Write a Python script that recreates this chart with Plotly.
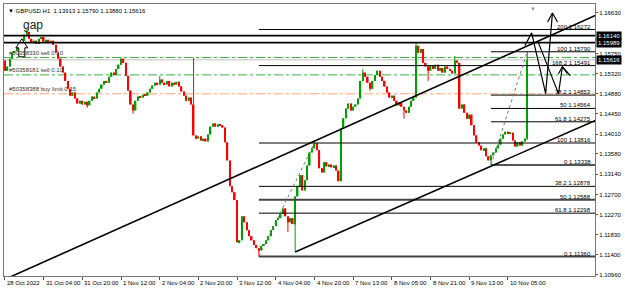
import plotly.graph_objects as go

# ---------------- data (H1 candles, GBPUSD) ----------------
OPEN0 = 1.1560
CLOSE = [
    1.1538, 1.1547, 1.1564, 1.1577, 1.1581, 1.1590, 1.1588, 1.1603, 1.1616, 1.1622,
    1.1607, 1.1598, 1.1603, 1.1596, 1.1607, 1.1611, 1.1601, 1.1605, 1.1598, 1.1603,
    1.1594, 1.1577, 1.1564, 1.1547, 1.1534, 1.1516, 1.1499, 1.1484, 1.1491, 1.1478,
    1.1467, 1.1473, 1.1465, 1.1471, 1.1463, 1.1473, 1.1482, 1.1478, 1.1491, 1.1499,
    1.1508, 1.1516, 1.1512, 1.1525, 1.1534, 1.1529, 1.1542, 1.1551, 1.1564, 1.1555,
    1.1527, 1.1495, 1.1465, 1.1452, 1.1473, 1.1482, 1.1480, 1.1486, 1.1484, 1.1491,
    1.1499, 1.1506, 1.1512, 1.1508, 1.1519, 1.1512, 1.1508, 1.1516, 1.1504, 1.1512,
    1.1508, 1.1514, 1.1504, 1.1493, 1.1484, 1.1473, 1.1480, 1.1465, 1.1398, 1.1391,
    1.1396, 1.1387, 1.1391, 1.1385, 1.1400, 1.1417, 1.1424, 1.1417, 1.1422, 1.1420,
    1.1415, 1.1383, 1.1344, 1.1288, 1.1275, 1.1258, 1.1167, 1.1171, 1.1223, 1.1210,
    1.1193, 1.1180, 1.1171, 1.1161, 1.1154, 1.1150, 1.1159, 1.1163, 1.1171, 1.1180,
    1.1193, 1.1202, 1.1215, 1.1219, 1.1228, 1.1240, 1.1223, 1.1210, 1.1219, 1.1206,
    1.1266, 1.1288, 1.1312, 1.1279, 1.1301, 1.1333, 1.1361, 1.1370, 1.1381, 1.1366,
    1.1327, 1.1318, 1.1340, 1.1331, 1.1335, 1.1329, 1.1333, 1.1322, 1.1299, 1.1413,
    1.1435, 1.1456, 1.1467, 1.1452, 1.1460, 1.1465, 1.1478, 1.1516, 1.1534, 1.1525,
    1.1512, 1.1499, 1.1516, 1.1529, 1.1538, 1.1525, 1.1516, 1.1504, 1.1491, 1.1480,
    1.1484, 1.1473, 1.1463, 1.1469, 1.1460, 1.1452, 1.1447, 1.1460, 1.1473, 1.1480,
    1.1592, 1.1577, 1.1585, 1.1555, 1.1547, 1.1538, 1.1549, 1.1542, 1.1551, 1.1538,
    1.1544, 1.1534, 1.1547, 1.1542, 1.1538, 1.1532, 1.1560, 1.1555, 1.1456, 1.1465,
    1.1447, 1.1434, 1.1443, 1.1420, 1.1398, 1.1383, 1.1376, 1.1366, 1.1370, 1.1353,
    1.1344, 1.1355, 1.1361, 1.1370, 1.1378, 1.1391, 1.1400, 1.1406, 1.1402, 1.1404,
    1.1387, 1.1374, 1.1383, 1.1376, 1.1385, 1.13913, 1.15616,
]
HIGH_WICK_BARS = [9, 48, 64, 78, 128, 148, 170, 186, 216]
HIGH_WICK_VALS = [1.1628, 1.1566, 1.1527, 1.1566, 1.1387, 1.1542, 1.1598, 1.1570, 1.15790]
LOW_WICK_BARS = [34, 53, 105, 117, 120, 151, 165, 175, 201, 216]
LOW_WICK_VALS = [1.1458, 1.1445, 1.1136, 1.1189, 1.1146, 1.1495, 1.1434, 1.1516, 1.13338, 1.13880]

TICK_BARS = [0, 16, 32, 48, 64, 80, 96, 112, 128, 144, 160, 176, 192, 208]
TICK_LABELS = ["28 Oct 2022", "31 Oct 04:00", "31 Oct 20:00", "1 Nov 12:00", "2 Nov 04:00",
               "2 Nov 20:00", "3 Nov 12:00", "4 Nov 04:00", "4 Nov 20:00", "7 Nov 13:00",
               "8 Nov 05:00", "8 Nov 21:00", "9 Nov 13:00", "10 Nov 05:00"]
PRICE_TICKS = [1.16630, 1.15750, 1.15320, 1.14880, 1.14450, 1.14010, 1.13580,
               1.13140, 1.12700, 1.12270, 1.11830, 1.11400, 1.10960]

HEADER = "GBPUSD.H1  1.13913 1.15790 1.13880 1.15616"

# horizontal levels
GAP_LEVELS = [1.16140, 1.15989]
BID = 1.15616
SELL_ORDERS = [1.15665, 1.15290]
SELL_TEXT = ["#50358330 sell 0.10", "#50358181 sell 0.10"]
BUY_LIMIT = 1.14880
BUY_TEXT = "#50358388 buy limit 0.15"

# Fibonacci B (from 3 Nov low to 4 Nov high)
FIB_B_X = [105, 128]
FIB_B_LEVELS = [1.11360, 1.12298, 1.12588, 1.12878, 1.13816, 1.15491, 1.16272]
FIB_B_NAMES = ["0", "61.8", "50", "38.2", "100", "168.2", "200"]
# Fibonacci A (from 9 Nov low to 10 Nov high)
FIB_A_X = [201, 216]
FIB_A_LEVELS = [1.13338, 1.14275, 1.14564, 1.14853, 1.15790]
FIB_A_NAMES = ["0", "61.8", "50", "38.2", "100"]

# trend lines (bar index, price)
TREND1_X = [0, 244.5]
TREND1_Y = [1.10867, 1.16583]
TREND2_X = [120, 244.5]
TREND2_Y = [1.11456, 1.14312]

# hand drawn projection arrows (bar index, price)
PATH1_X = [215.0, 217.8, 223.6, 226.4]
PATH1_Y = [1.15919, 1.16199, 1.14884, 1.16630]
HEAD1_X = [224.4, 226.4, 228.5]
HEAD1_Y = [1.16436, 1.16630, 1.16436]
PATH2_X = [220.3, 228.9, 230.5, 233.8]
PATH2_Y = [1.16026, 1.14884, 1.15466, 1.15272]
HEAD2_X = [228.9, 230.5, 232.6]
HEAD2_Y = [1.15315, 1.15466, 1.15315]

GAP_ARROW_X = [7.0, 9.4, 8.2, 8.2, 5.7, 5.7, 4.5, 7.0]
GAP_ARROW_Y = [1.16070, 1.15876, 1.15876, 1.15681, 1.15681, 1.15876, 1.15876, 1.16070]

X_RANGE = [-0.41, 244.0]
Y_RANGE = [1.10938, 1.16824]

GREEN = "#00a000"
RED = "#ff0000"
FONT = "Liberation Sans"

# ---------------- build candles ----------------
n = len(CLOSE)
idx = list(range(n))
opens = [OPEN0] + CLOSE[:-1]
highs = [max(o, c) for o, c in zip(opens, CLOSE)]
lows = [min(o, c) for o, c in zip(opens, CLOSE)]
for b, v in zip(HIGH_WICK_BARS, HIGH_WICK_VALS):
    highs[b] = v
for b, v in zip(LOW_WICK_BARS, LOW_WICK_VALS):
    lows[b] = v

fig = go.Figure()

up = [c >= o for o, c in zip(opens, CLOSE)]
for is_up, col in [(True, GREEN), (False, RED)]:
    sel = [i for i in idx if up[i] == is_up]
    wx, wy = [], []
    for i in sel:
        wx += [i, i, None]
        wy += [lows[i], highs[i], None]
    fig.add_trace(go.Scatter(x=wx, y=wy, mode="lines", line=dict(color=col, width=1),
                             showlegend=False, hoverinfo="skip"))
    fig.add_trace(go.Bar(x=sel, base=[min(opens[i], CLOSE[i]) for i in sel],
                         y=[max(abs(CLOSE[i] - opens[i]), 0.00006) for i in sel],
                         width=0.62, marker=dict(color=col, line=dict(width=0)),
                         showlegend=False, hoverinfo="skip"))

XMAX = X_RANGE[1] + 1


def hline(x0, y, color, width, dash="solid"):
    fig.add_trace(go.Scatter(x=[x0, XMAX], y=[y, y], mode="lines",
                             line=dict(color=color, width=width, dash=dash),
                             showlegend=False, hoverinfo="skip"))


# Fib levels
thick_b = {"0", "50"}
for lv, nm in zip(FIB_B_LEVELS, FIB_B_NAMES):
    if nm in thick_b:
        hline(FIB_B_X[0], lv, "#444444", 2)
    else:
        hline(FIB_B_X[0], lv, "black", 1)
for lv, nm in zip(FIB_A_LEVELS, FIB_A_NAMES):
    if nm == "0":
        hline(FIB_A_X[0], lv, "#555555", 2)
    else:
        hline(FIB_A_X[0], lv, "black", 1)

# Fib diagonals (dotted)
fig.add_trace(go.Scatter(x=FIB_B_X, y=[FIB_B_LEVELS[0], FIB_B_LEVELS[4]], mode="lines",
                         line=dict(color="#777777", width=1, dash="dot"),
                         showlegend=False, hoverinfo="skip"))
fig.add_trace(go.Scatter(x=FIB_A_X, y=[FIB_A_LEVELS[0], FIB_A_LEVELS[4]], mode="lines",
                         line=dict(color="#777777", width=1, dash="dot"),
                         showlegend=False, hoverinfo="skip"))

# trend lines
for tx, ty in [(TREND1_X, TREND1_Y), (TREND2_X, TREND2_Y)]:
    fig.add_trace(go.Scatter(x=tx, y=ty, mode="lines", line=dict(color="black", width=1.6),
                             showlegend=False, hoverinfo="skip"))

# projection arrows
for px, py in [(PATH1_X, PATH1_Y), (HEAD1_X, HEAD1_Y), (PATH2_X, PATH2_Y), (HEAD2_X, HEAD2_Y)]:
    fig.add_trace(go.Scatter(x=px, y=py, mode="lines", line=dict(color="black", width=1.2),
                             showlegend=False, hoverinfo="skip"))

# hollow gap arrow
fig.add_trace(go.Scatter(x=GAP_ARROW_X, y=GAP_ARROW_Y, mode="lines", fill="toself",
                         fillcolor="white", line=dict(color="black", width=1),
                         showlegend=False, hoverinfo="skip"))

shapes = []
# order lines (below candles)
for lv in SELL_ORDERS:
    shapes.append(dict(type="line", xref="paper", x0=0, x1=1, y0=lv, y1=lv, yref="y",
                       line=dict(color="#3cb043", width=1, dash="dashdot"), layer="below"))
shapes.append(dict(type="line", xref="paper", x0=0, x1=1, y0=BUY_LIMIT, y1=BUY_LIMIT, yref="y",
                   line=dict(color="#ffa07a", width=1, dash="dashdot"), layer="below"))
shapes.append(dict(type="line", xref="paper", x0=0, x1=1, y0=BID, y1=BID, yref="y",
                   line=dict(color="#c0c0c0", width=1), layer="below"))
for lv in GAP_LEVELS:
    shapes.append(dict(type="line", xref="paper", x0=0, x1=1, y0=lv, y1=lv, yref="y",
                       line=dict(color="black", width=1.6), layer="above"))
# bottom tab strip
shapes.append(dict(type="line", xref="paper", yref="paper", x0=-0.01, x1=1.05, y0=-0.068, y1=-0.068,
                   line=dict(width=1, color="#b0b0b0")))

ann = []
# fib labels
for lv, nm in zip(FIB_B_LEVELS + FIB_A_LEVELS, FIB_B_NAMES + FIB_A_NAMES):
    ann.append(dict(x=0.995, xref="paper", y=lv, yref="y", xanchor="right", yanchor="bottom",
                    text=f"{nm} {lv:.5f}", showarrow=False, font=dict(size=6, color="black", family=FONT),
                    borderpad=0, yshift=-1))
# highlighted price labels
for lv in GAP_LEVELS + [BID]:
    ann.append(dict(x=1, xref="paper", y=lv, yref="y", xanchor="left", yanchor="middle",
                    text=f"{lv:.5f}", showarrow=False, bgcolor="black",
                    font=dict(size=6, color="white", family=FONT), borderpad=1, xshift=1))
# order labels
for lv, t in zip(SELL_ORDERS, SELL_TEXT):
    ann.append(dict(x=0.005, xref="paper", y=lv, yref="y", xanchor="left", yanchor="bottom",
                    text=t, showarrow=False, font=dict(size=6, color="#333333", family=FONT), yshift=0))
ann.append(dict(x=0.005, xref="paper", y=BUY_LIMIT, yref="y", xanchor="left", yanchor="bottom",
                text=BUY_TEXT, showarrow=False, font=dict(size=6, color="#333333", family=FONT)))
# header
ann.append(dict(x=0.004, xref="paper", y=1, yref="paper", xanchor="left", yanchor="top",
                text="▼ " + HEADER, showarrow=False, font=dict(size=6, color="black", family=FONT),
                yshift=-2))
# gap text
ann.append(dict(x=6.5, xref="x", y=1.1617, yref="y", xanchor="left", yanchor="bottom",
                text="gap", showarrow=False, font=dict(size=12, color="#222222", family=FONT)))
# x tick labels
for b, t in zip(TICK_BARS, TICK_LABELS):
    ann.append(dict(x=b, xref="x", y=0, yref="paper", xanchor="left", yanchor="top",
                    text=t, showarrow=False, font=dict(size=6, color="black", family=FONT),
                    xshift=0, yshift=-2))
# shift marker
ann.append(dict(x=218.5, xref="x", y=1, yref="paper", xanchor="center", yanchor="top",
                text="▼", showarrow=False, font=dict(size=6, color="#999999", family=FONT)))

fig.update_layout(
    width=625, height=293,
    margin=dict(l=3, r=25, t=3, b=17),
    paper_bgcolor="white", plot_bgcolor="white",
    showlegend=False, shapes=shapes, annotations=ann, barmode="overlay",
    xaxis=dict(range=X_RANGE, showgrid=False, zeroline=False,
               tickvals=TICK_BARS, ticktext=[""] * len(TICK_BARS), ticks="outside", ticklen=3,
               tickcolor="#555555", showline=True, linecolor="#777777", mirror=True, linewidth=1),
    yaxis=dict(range=Y_RANGE, side="right", showgrid=False, zeroline=False,
               tickvals=PRICE_TICKS, ticktext=[f"{v:.5f}" for v in PRICE_TICKS],
               ticks="outside", ticklen=2, tickcolor="#555555",
               tickfont=dict(size=6, color="black", family=FONT),
               showline=True, linecolor="#777777", mirror=True, linewidth=1),
)

fig.write_html("out.html")
